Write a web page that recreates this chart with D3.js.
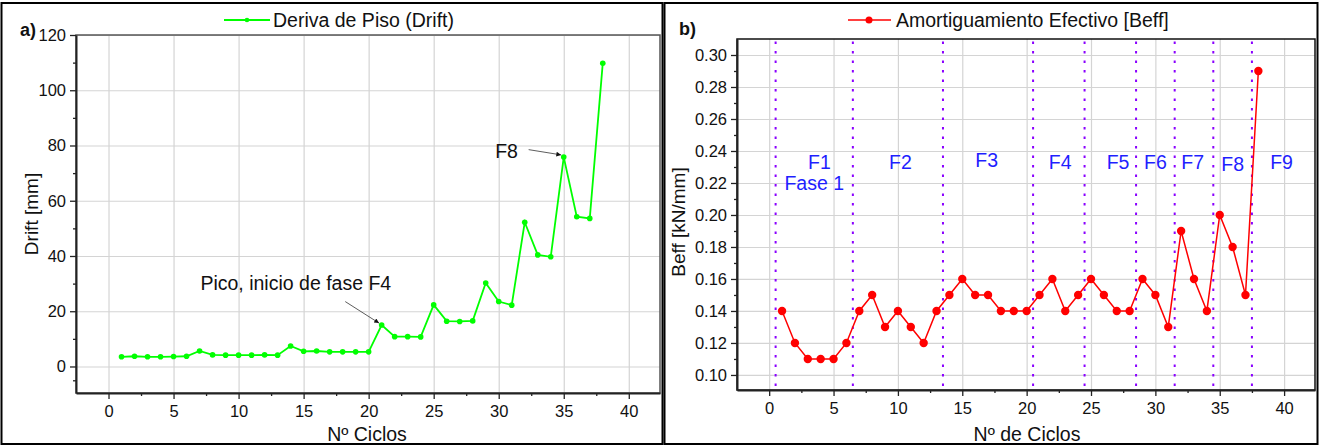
<!DOCTYPE html>
<html>
<head>
<meta charset="utf-8">
<script src="https://cdn.jsdelivr.net/npm/d3@7"></script>
<style>
  body { margin: 0; background: #fff; }
  svg { display: block; font-family: "Liberation Sans", Arial, sans-serif; }
  .tick text { font-size: 16.5px; fill: #111; }
  .grid line { stroke: #d4d4d4; stroke-width: 1.2; }
  .grid path { display: none; }
</style>
</head>
<body>
<div id="chart"></div>
<script>
var totWidth = 1319;
var totHeight = 446;

//-- Data
var ciclos = d3.range(1, 39);
var drift = [3.5, 3.7, 3.5, 3.5, 3.6, 3.7, 5.6, 4.2, 4.1, 4.1, 4.1, 4.2, 4.1, 7.4,
             5.5, 5.6, 5.3, 5.3, 5.3, 5.3, 15.0, 10.8, 10.8, 10.7, 22.3, 16.4, 16.3, 16.5,
             30.2, 23.5, 22.2, 52.2, 40.4, 39.7, 75.8, 54.2, 53.6, 109.8];
var beff = [0.14, 0.12, 0.11, 0.11, 0.11, 0.12, 0.14, 0.15, 0.13, 0.14, 0.13, 0.12, 0.14, 0.15,
            0.16, 0.15, 0.15, 0.14, 0.14, 0.14, 0.15, 0.16, 0.14, 0.15, 0.16, 0.15, 0.14, 0.14,
            0.16, 0.15, 0.13, 0.19, 0.16, 0.14, 0.20, 0.18, 0.15, 0.29];
var faseLimits = [0.5, 6.5, 13.5, 20.5, 24.5, 28.5, 31.5, 34.5, 37.5];
var faseLabels = ["F1", "F2", "F3", "F4", "F5", "F6", "F7", "F8", "F9"];
var faseX = [3.9, 10.2, 16.9, 22.6, 27.1, 30.0, 32.9, 36.0, 39.8];
var faseY = [0.233, 0.233, 0.234, 0.233, 0.233, 0.233, 0.233, 0.232, 0.233];
var xTicks = [0, 5, 10, 15, 20, 25, 30, 35, 40];
var driftTicks = [0, 20, 40, 60, 80, 100, 120];
var beffTicks = [0.10, 0.12, 0.14, 0.16, 0.18, 0.20, 0.22, 0.24, 0.26, 0.28, 0.30];

var svg = d3.select("#chart")
  .append("svg")
    .attr("width", totWidth)
    .attr("height", totHeight);

//-- Panel frames
svg.append("rect").attr("x", 1.5).attr("y", 3).attr("width", 661).attr("height", 441)
  .attr("fill", "none").attr("stroke", "#000").attr("stroke-width", 2);
svg.append("rect").attr("x", 664.5).attr("y", 3).attr("width", 653).attr("height", 441)
  .attr("fill", "none").attr("stroke", "#000").attr("stroke-width", 2);

//-- Helper to draw one panel
function drawPanel(opt) {
  var g = svg.append("g");
  var x = d3.scaleLinear().domain(opt.xdom).range([opt.left, opt.right]);
  var y = d3.scaleLinear().domain(opt.ydom).range([opt.bottom, opt.top]);

  // grid
  g.append("g").attr("class", "grid")
    .attr("transform", "translate(0," + opt.bottom + ")")
    .call(d3.axisBottom(x).tickValues(xTicks).tickSize(-(opt.bottom - opt.top)).tickFormat(""));
  g.append("g").attr("class", "grid")
    .attr("transform", "translate(" + opt.left + ",0)")
    .call(d3.axisLeft(y).tickValues(opt.yticks).tickSize(-(opt.right - opt.left)).tickFormat(""));

  // frame
  g.append("rect")
    .attr("x", opt.left).attr("y", opt.top)
    .attr("width", opt.right - opt.left).attr("height", opt.bottom - opt.top)
    .attr("fill", "none").attr("stroke", opt.frame).attr("stroke-width", 1.5);

  // minor ticks
  var xMinor = xTicks.map(function(d){ return d + 2.5; });
  g.append("g")
    .attr("transform", "translate(0," + opt.bottom + ")")
    .call(d3.axisBottom(x).tickValues(xMinor.filter(function(d){ return d > opt.xdom[0] && d < opt.xdom[1]; }))
      .tickSize(3).tickFormat("").tickSizeOuter(0))
    .call(function(a){ a.select(".domain").remove(); a.selectAll("line").attr("stroke", "#222").attr("stroke-width", 1.3); });
  g.append("g")
    .attr("transform", "translate(" + opt.left + ",0)")
    .call(d3.axisLeft(y).tickValues(opt.yminor).tickSize(3).tickFormat("").tickSizeOuter(0))
    .call(function(a){ a.select(".domain").remove(); a.selectAll("line").attr("stroke", "#222").attr("stroke-width", 1.3); });

  // major axes
  g.append("g")
    .attr("transform", "translate(0," + opt.bottom + ")")
    .call(d3.axisBottom(x).tickValues(xTicks).tickSize(6).tickSizeOuter(0).tickPadding(6))
    .call(function(a){ a.select(".domain").attr("stroke", "#222").attr("stroke-width", 2); a.selectAll("line").attr("stroke", "#222").attr("stroke-width", 1.3); });
  g.append("g")
    .attr("transform", "translate(" + opt.left + ",0)")
    .call(d3.axisLeft(y).tickValues(opt.yticks).tickSize(6).tickSizeOuter(0).tickPadding(4).tickFormat(opt.yfmt))
    .call(function(a){ a.select(".domain").attr("stroke", "#222").attr("stroke-width", 2); a.selectAll("line").attr("stroke", "#222").attr("stroke-width", 1.3); });

  return {g: g, x: x, y: y};
}

//-- Panel a) Drift
var pa = drawPanel({
  left: 76, right: 660, top: 35, bottom: 393,
  xdom: [-2.5, 42.4], ydom: [-9.6, 120],
  yticks: driftTicks, yminor: [-5, 10, 30, 50, 70, 90, 110],
  yfmt: d3.format("d"), frame: "#555"
});

pa.g.append("path")
  .datum(ciclos)
  .attr("fill", "none").attr("stroke", "#00ff00").attr("stroke-width", 1.8)
  .attr("d", d3.line().x(function(d){ return pa.x(d); }).y(function(d, i){ return pa.y(drift[i]); }));
pa.g.selectAll("circle.dr")
  .data(ciclos)
  .enter().append("circle")
    .attr("class", "dr")
    .attr("cx", function(d){ return pa.x(d); })
    .attr("cy", function(d, i){ return pa.y(drift[i]); })
    .attr("r", 2.8)
    .attr("fill", "#00ff00");

//-- arrows
var defs = svg.append("defs");
defs.append("marker")
  .attr("id", "arr").attr("viewBox", "0 0 10 10").attr("refX", 10).attr("refY", 5)
  .attr("markerWidth", 9).attr("markerHeight", 6).attr("orient", "auto")
  .append("path").attr("d", "M0,0 L10,5 L0,10 z").attr("fill", "#111");

pa.g.append("text")
  .attr("x", pa.x(14.4)).attr("y", pa.y(27.6))
  .attr("text-anchor", "middle").style("font-size", "19.5px").attr("fill", "#111")
  .text("Pico, inicio de fase F4");
pa.g.append("line")
  .attr("x1", pa.x(18.2)).attr("y1", pa.y(23.5))
  .attr("x2", pa.x(20.8)).attr("y2", pa.y(15.7))
  .attr("stroke", "#333").attr("stroke-width", 0.8).attr("marker-end", "url(#arr)");
pa.g.append("text")
  .attr("x", pa.x(30.6)).attr("y", pa.y(75.6))
  .attr("text-anchor", "middle").style("font-size", "19.5px").attr("fill", "#111")
  .text("F8");
pa.g.append("line")
  .attr("x1", pa.x(32.3)).attr("y1", pa.y(78.5))
  .attr("x2", pa.x(34.8)).attr("y2", pa.y(76.6))
  .attr("stroke", "#333").attr("stroke-width", 0.8).attr("marker-end", "url(#arr)");

// legend a
var lgA = svg.append("g");
lgA.append("line").attr("x1", 224).attr("x2", 270).attr("y1", 20).attr("y2", 20)
  .attr("stroke", "#00ff00").attr("stroke-width", 1.8);
lgA.append("circle").attr("cx", 247).attr("cy", 20).attr("r", 2.3).attr("fill", "#00ff00");
lgA.append("text").attr("x", 273).attr("y", 27).style("font-size", "19.5px").attr("fill", "#111")
  .text("Deriva de Piso (Drift)");

// axis titles a
svg.append("text").attr("x", 367).attr("y", 441).attr("text-anchor", "middle")
  .style("font-size", "19.5px").attr("fill", "#111").text("Nº Ciclos");
svg.append("text").attr("transform", "translate(38,214) rotate(-90)").attr("text-anchor", "middle")
  .style("font-size", "19px").attr("fill", "#111").text("Drift [mm]");
svg.append("text").attr("x", 20).attr("y", 36).style("font-size", "18px").style("font-weight", "bold")
  .attr("fill", "#111").text("a)");

//-- Panel b) Beff
var pb = drawPanel({
  left: 737, right: 1315, top: 39, bottom: 390,
  xdom: [-2.5, 42.4], ydom: [0.0906, 0.3100],
  yticks: beffTicks, yminor: [0.11, 0.13, 0.15, 0.17, 0.19, 0.21, 0.23, 0.25, 0.27, 0.29],
  yfmt: d3.format(".2f"), frame: "#111"
});

pb.g.selectAll("line.fase")
  .data(faseLimits)
  .enter().append("line")
    .attr("class", "fase")
    .attr("x1", function(d){ return pb.x(d); }).attr("x2", function(d){ return pb.x(d); })
    .attr("y1", pb.y(0.3085)).attr("y2", pb.y(0.0906))
    .attr("stroke", "#8a00ff").attr("stroke-width", 2).attr("stroke-dasharray", "2.5,7");

pb.g.selectAll("text.fase")
  .data(faseLabels)
  .enter().append("text")
    .attr("class", "fase")
    .attr("x", function(d, i){ return pb.x(faseX[i]); })
    .attr("y", function(d, i){ return pb.y(faseY[i]); })
    .attr("text-anchor", "middle").attr("dy", "0.35em")
    .style("font-size", "19.5px").attr("fill", "#1f1fff")
    .text(function(d){ return d; });
pb.g.append("text")
  .attr("x", pb.x(3.5)).attr("y", pb.y(0.220)).attr("dy", "0.35em")
  .attr("text-anchor", "middle").style("font-size", "19.5px").attr("fill", "#1f1fff")
  .text("Fase 1");

pb.g.append("path")
  .datum(ciclos)
  .attr("fill", "none").attr("stroke", "#ff0000").attr("stroke-width", 1.5)
  .attr("d", d3.line().x(function(d){ return pb.x(d); }).y(function(d, i){ return pb.y(beff[i]); }));
pb.g.selectAll("circle.bf")
  .data(ciclos)
  .enter().append("circle")
    .attr("class", "bf")
    .attr("cx", function(d){ return pb.x(d); })
    .attr("cy", function(d, i){ return pb.y(beff[i]); })
    .attr("r", 4.2)
    .attr("fill", "#ff0000");

// legend b
var lgB = svg.append("g");
lgB.append("line").attr("x1", 848).attr("x2", 891).attr("y1", 20).attr("y2", 20)
  .attr("stroke", "#ff0000").attr("stroke-width", 1.5);
lgB.append("circle").attr("cx", 869).attr("cy", 20).attr("r", 3.5).attr("fill", "#ff0000");
lgB.append("text").attr("x", 896).attr("y", 27).style("font-size", "19.5px").attr("fill", "#111")
  .text("Amortiguamiento Efectivo [Beff]");

svg.append("text").attr("x", 1027).attr("y", 441).attr("text-anchor", "middle")
  .style("font-size", "19.5px").attr("fill", "#111").text("Nº de Ciclos");
svg.append("text").attr("transform", "translate(685,222) rotate(-90)").attr("text-anchor", "middle")
  .style("font-size", "19px").attr("fill", "#111").text("Beff [kN/mm]");
svg.append("text").attr("x", 679).attr("y", 35).style("font-size", "18px").style("font-weight", "bold")
  .attr("fill", "#111").text("b)");
</script>
</body>
</html>
